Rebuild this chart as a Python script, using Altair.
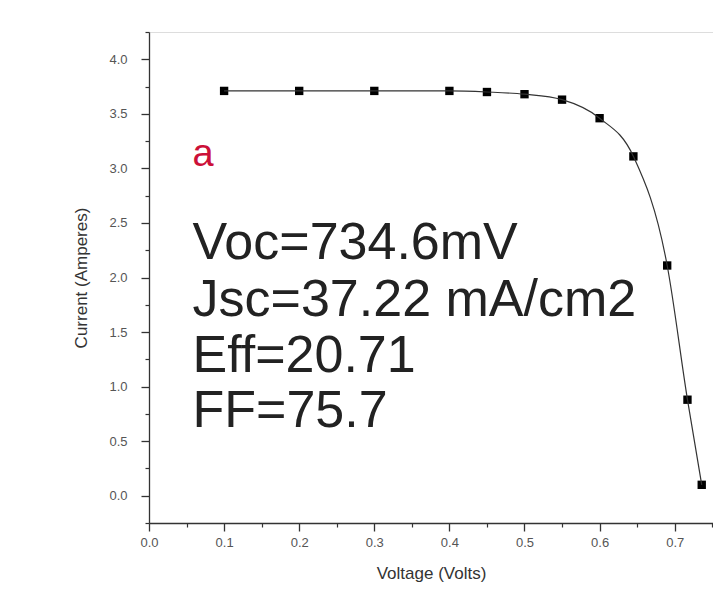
import altair as alt
import pandas as pd

voltage = [0.1, 0.2, 0.3, 0.4, 0.45, 0.5, 0.55, 0.6, 0.645, 0.69, 0.717, 0.736]
current = [3.71, 3.71, 3.71, 3.71, 3.70, 3.68, 3.63, 3.46, 3.11, 2.11, 0.88, 0.10]

x_major = [0.0, 0.1, 0.2, 0.3, 0.4, 0.5, 0.6, 0.7]
x_minor = [0.05, 0.15, 0.25, 0.35, 0.45, 0.55, 0.65, 0.75]
y_major = [0.0, 0.5, 1.0, 1.5, 2.0, 2.5, 3.0, 3.5, 4.0]
y_minor = [-0.25, 0.25, 0.75, 1.25, 1.75, 2.25, 2.75, 3.25, 3.75, 4.25]

ann_lines = ["Voc=734.6mV", "Jsc=37.22 mA/cm2", "Eff=20.71", "FF=75.7"]
ann_y = [2.32, 1.79, 1.28, 0.78]
ann_x = [0.058] * 4

df = pd.DataFrame({"V": voltage, "I": current})
ann = pd.DataFrame({"x": ann_x, "y": ann_y, "t": ann_lines})

FONT = "Liberation Sans"
AX = "#333"

xscale = alt.Scale(domain=[0, 0.751], nice=False, zero=False)
yscale = alt.Scale(domain=[-0.25, 4.25], nice=False, zero=False)

x_major_axis = alt.Axis(
    title="Voltage (Volts)", orient="bottom", values=x_major, format=".1f",
    tickSize=8, grid=False, labelOverlap=False, labelFlush=False,
    domainColor=AX, tickColor=AX, domainWidth=1.3, tickWidth=1.3,
    labelColor="#555", labelFont=FONT, labelFontSize=13, labelPadding=5,
    titleColor="#333", titleFont=FONT, titleFontSize=17, titleFontWeight="normal", titlePadding=16,
)
y_major_axis = alt.Axis(
    title="Current (Amperes)", orient="left", values=y_major, format=".1f",
    tickSize=8, grid=False, labelOverlap=False, labelFlush=False,
    domainColor=AX, tickColor=AX, domainWidth=1.3, tickWidth=1.3,
    labelColor="#555", labelFont=FONT, labelFontSize=13, labelPadding=14,
    titleColor="#333", titleFont=FONT, titleFontSize=17, titleFontWeight="normal", titlePadding=18,
)
x_minor_axis = alt.Axis(
    title=None, orient="bottom", values=x_minor, labels=False, domain=False,
    tickSize=4, grid=False, tickColor=AX, tickWidth=1.2,
)
y_minor_axis = alt.Axis(
    title=None, orient="left", values=y_minor, labels=False, domain=False,
    tickSize=4, grid=False, tickColor=AX, tickWidth=1.2,
)

pts = alt.Chart(df).mark_point(
    shape="square", filled=True, color="#000", size=70, opacity=1
).encode(
    x=alt.X("V:Q", scale=xscale, axis=x_major_axis),
    y=alt.Y("I:Q", scale=yscale, axis=y_major_axis),
)

line = alt.Chart(df).mark_line(
    color="#333", strokeWidth=1.2, interpolate="monotone"
).encode(
    x=alt.X("V:Q", scale=xscale, axis=x_minor_axis),
    y=alt.Y("I:Q", scale=yscale, axis=y_minor_axis),
)

label_a = alt.Chart(pd.DataFrame({"x": [0.058], "y": [3.12], "t": ["a"]})).mark_text(
    align="left", baseline="middle", font=FONT, fontSize=38, color="#cc1038"
).encode(x=alt.X("x:Q", scale=xscale, axis=None), y=alt.Y("y:Q", scale=yscale, axis=None), text="t:N")

texts = alt.Chart(ann).mark_text(
    align="left", baseline="middle", font=FONT, fontSize=52, color="#222"
).encode(x=alt.X("x:Q", scale=xscale, axis=None), y=alt.Y("y:Q", scale=yscale, axis=None), text="t:N")

chart = alt.layer(pts, line, label_a, texts).resolve_axis(
    x="independent", y="independent"
).properties(
    width=564, height=491,
    autosize=alt.AutoSizeParams(type="none"),
    padding={"left": 141, "top": 24, "right": 0, "bottom": 66},
).configure_view(stroke=None).configure(background="white")

chart.save("out.html", embed_options={"renderer": "svg", "actions": False})
